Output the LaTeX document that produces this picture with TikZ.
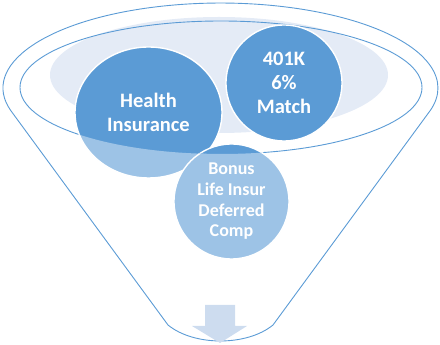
\documentclass[tikz,border=0pt]{standalone}
\usepackage{fontspec}
\setmainfont{Carlito}
\usetikzlibrary{shapes.geometric}
\definecolor{funnelblue}{HTML}{5B9BD5}
\definecolor{lightblue}{HTML}{9DC3E6}
\definecolor{palefill}{HTML}{E4EBF6}
\definecolor{arrowfill}{HTML}{CDDCEF}
\tikzset{
  funnelline/.style={draw=funnelblue, line width=0.9pt},
  bubble/.style={ellipse, fill=funnelblue, draw=white, line width=1.4pt, inner sep=0pt},
  lowbubble/.style={fill=lightblue, draw=white, line width=1.4pt},
  bigtext/.style={text=white, font=\bfseries\fontsize{20.5}{24}\selectfont, align=center},
  smalltext/.style={text=white, font=\bfseries\fontsize{18}{20.7}\selectfont, align=center}
}
\begin{document}
\begin{tikzpicture}[x=1pt,y=1pt]
\useasboundingbox (0,0) rectangle (440,345);
% pale inner surface
\fill[palefill] (219,270) ellipse[x radius=169, y radius=58];
% funnel outline
\draw[funnelline, line join=round] (168,20) -- (11,234.1)
  arc[start angle=195.6, end angle=-15.6, x radius=217.5, y radius=85]
  -- (273,20) .. controls (247,-1.3) and (194,-1.3) .. (168,20) -- cycle;
\draw[funnelline] (221,257.5) ellipse[x radius=201, y radius=66.5];
% arrow
\fill[arrowfill] (205,40) -- (235,40) -- (235,19) -- (247,19) -- (220,2)
  -- (192,19) -- (205,19) -- cycle;
% bubbles
\node[bubble, minimum width=147pt, minimum height=131pt] (health) at (148.5,232.5) {};
\node[bubble, minimum width=116pt, minimum height=116pt] (k401) at (284,262) {};
\node[bubble, minimum width=115pt, minimum height=115pt] (bonus) at (231.5,143.5) {};
% parts of the bubbles below the funnel rim, seen through the funnel
\begin{scope}
  \clip (20,257.5) arc[start angle=180, end angle=360, x radius=201, y radius=66.5]
    -- (440,257.5) -- (440,0) -- (0,0) -- (0,257.5) -- cycle;
  \path[lowbubble] (health.center) ellipse[x radius=73.5, y radius=65.5];
  \path[lowbubble] (k401.center) circle[radius=58];
  \path[lowbubble] (bonus.center) circle[radius=57.5];
\end{scope}
% labels
\node[bigtext] (healthlabel) at (health.center) {Health\\Insurance};
\node[bigtext] (k401label) at (k401.center) {401K\\6\%\\Match};
\node[smalltext] (bonuslabel) at (bonus.center) {Bonus\\Life Insur\\Deferred\\Comp};
\end{tikzpicture}
\end{document}
